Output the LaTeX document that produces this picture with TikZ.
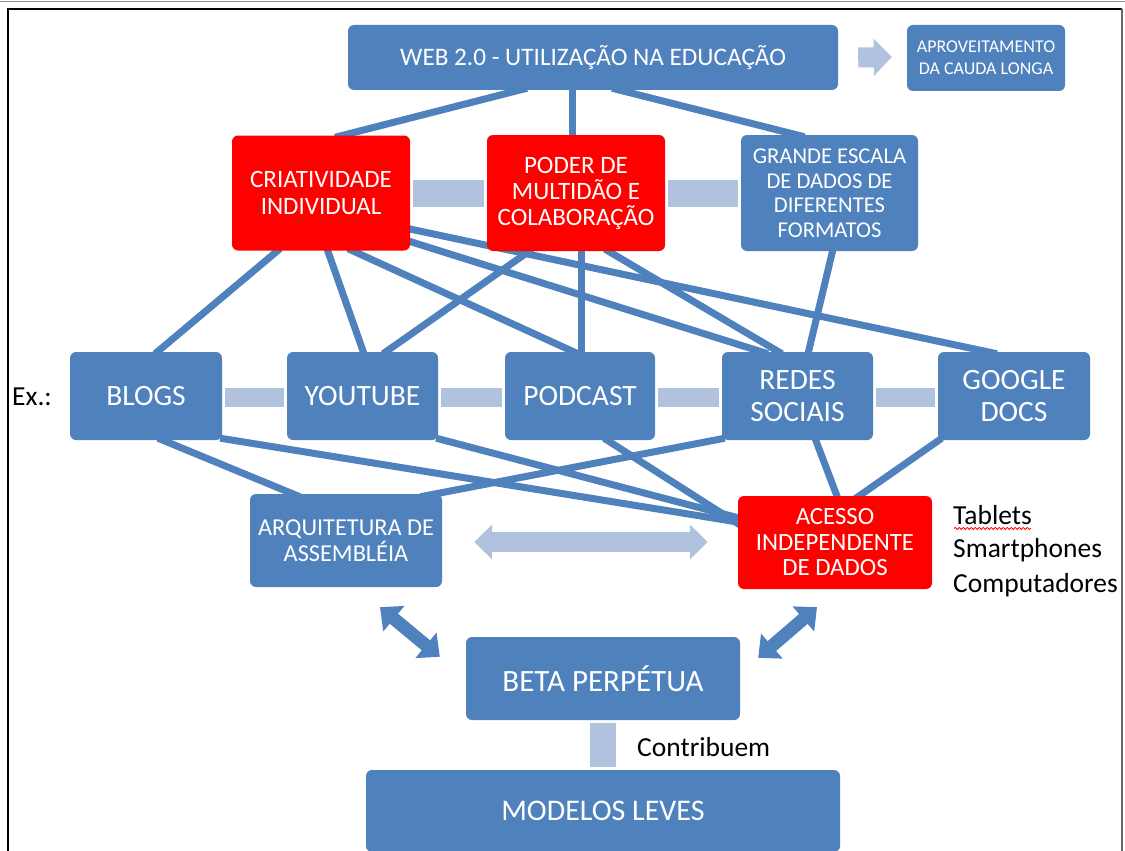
\documentclass[tikz,border=0pt]{standalone}
\usepackage{fontspec}
\setmainfont{Carlito}
\usetikzlibrary{calc,backgrounds,arrows.meta,decorations.pathmorphing}
\definecolor{sblue}{RGB}{79,129,189}
\definecolor{slight}{RGB}{176,194,222}
\definecolor{sred}{RGB}{255,0,0}
\newcommand\fsz[2]{\fontsize{#1}{#2}\selectfont}
\begin{document}
\begin{tikzpicture}[x=1pt,y=-1pt,
  box/.style={fill=sblue, rounded corners=6pt, text=white, align=center, inner sep=0pt},
  redbox/.style={box, fill=sred},
  link/.style={draw=sblue, line width=7pt},
  lbar/.style={draw=slight, shorten <=3pt, shorten >=3pt},
  lbarrow/.style={draw=slight, line width=20pt, -{Triangle[length=18pt,width=36pt]}},
  lbdbl/.style={draw=slight, line width=20pt, {Triangle[length=18pt,width=34pt]}-{Triangle[length=18pt,width=34pt]}},
  dkdbl/.style={draw=sblue, line width=13pt, {Triangle[length=18pt,width=32pt]}-{Triangle[length=18pt,width=32pt]}},
  plain/.style={anchor=west, inner sep=0pt, text=black, font=\fsz{27.5}{31}}
]
\useasboundingbox (0,0) rectangle (1125,851);

% boxes
\node[box, minimum width=490pt, minimum height=65pt, font=\fsz{25.2}{28}] (web) at (593,57.5) {WEB 2.0 - UTILIZAÇÃO NA EDUCAÇÃO};
\node[box, minimum width=158pt, minimum height=66pt, font=\fsz{18}{22}] (aprov) at (986,58) {APROVEITAMENTO\\DA CAUDA LONGA};

\node[redbox, minimum width=178pt, minimum height=115pt, font=\fsz{25}{27}] (crea) at (321,193) {CRIATIVIDADE\\INDIVIDUAL};
\node[redbox, minimum width=178pt, minimum height=116pt, font=\fsz{25}{26}] (poder) at (576,193) {PODER DE\\MULTIDÃO E\\COLABORAÇÃO};
\node[box, minimum width=177pt, minimum height=116pt, font=\fsz{22.6}{24.5}] (grande) at (829.5,193) {GRANDE ESCALA\\DE DADOS DE\\DIFERENTES\\FORMATOS};

\node[box, minimum width=152pt, minimum height=88pt, font=\fsz{29.5}{32}] (blogs) at (146,396) {BLOGS};
\node[box, minimum width=151pt, minimum height=88pt, font=\fsz{29.5}{32}] (yt) at (362.5,396) {YOUTUBE};
\node[box, minimum width=150pt, minimum height=88pt, font=\fsz{29.5}{32}] (pod) at (580,396) {PODCAST};
\node[box, minimum width=151pt, minimum height=88pt, font=\fsz{29.5}{32}] (redes) at (797.5,396) {REDES\\SOCIAIS};
\node[box, minimum width=152pt, minimum height=88pt, font=\fsz{29.5}{32}] (gdocs) at (1014,396) {GOOGLE\\DOCS};

\node[box, minimum width=192pt, minimum height=93pt, font=\fsz{24.3}{26}] (arq) at (346,540.5) {ARQUITETURA DE\\ASSEMBLÉIA};
\node[redbox, minimum width=194pt, minimum height=93pt, font=\fsz{24.8}{25.5}] (acesso) at (835,542.5) {ACESSO\\INDEPENDENTE\\DE DADOS};

\node[box, minimum width=274pt, minimum height=83pt, font=\fsz{31}{32}] (beta) at (603,678.5) {BETA PERPÉTUA};
\node[box, minimum width=474pt, minimum height=82pt, font=\fsz{30}{32}] (modelos) at (603,811) {MODELOS LEVES};

% texts
\node[plain] (ex) at (12,397) {Ex.:};
\node[plain] (tab) at (953,515) {Tablets};
\node[plain] (smart) at (953,550) {Smartphones};
\node[plain] (comp) at (953,585) {Computadores};
\node[plain] (contr) at (637,747) {Contribuem};
\draw[sred, line width=0.8pt, decorate, decoration={snake, amplitude=1.1pt, segment length=4pt}]
  ($(tab.base west)+(1,4)$) -- ($(tab.base east)+(-1,4)$);

% connectors behind boxes
\begin{scope}[on background layer]
  \fill[white] (0,0) rectangle (1125,851);
  \draw[black!45, line width=1pt] (0,1.5) -- (1125,1.5);
  \draw[black, line width=2.5pt] (8,851) -- (8,9) -- (1122,9);
  \draw[black!60, line width=1.5pt] (1122,9) -- (1122,851);

  \draw[link] ($(web.south)+(-66,-2)$) -- ($(crea.north)+(14,2)$);
  \draw[link] ($(web.south)+(-21,-2)$) -- ($(poder.north)+(-4,2)$);
  \draw[link] ($(web.south)+(19,-2)$) -- ($(grande.north)+(-25,2)$);

  \draw[link] ($(crea.south)+(-41,-2)$) -- ($(blogs.north)+(9,2)$);
  \draw[link] ($(crea.south)+(6,-2)$) -- ($(yt.north)+(1.5,2)$);
  \draw[link] ($(crea.south)+(27,-2)$) -- ($(pod.north)+(-2,2)$);
  \draw[link] ($(crea.east)+(-5,47)$) -- ($(redes.north)+(-29.5,2)$);
  \draw[link] ($(crea.east)+(-5,35)$) -- ($(gdocs.north)+(-17,2)$);
  \draw[link] ($(poder.south)+(-44,-2)$) -- ($(yt.north)+(20.5,2)$);
  \draw[link] ($(poder.south)+(5,-2)$) -- ($(pod.north)+(1,2)$);
  \draw[link] ($(poder.south)+(29,-2)$) -- ($(redes.north)+(-15.5,2)$);
  \draw[link] ($(grande.south)+(3.5,-2)$) -- ($(redes.north)+(10.5,2)$);

  \draw[link] ($(blogs.south)+(12,-2)$) -- ($(arq.north)+(-46,3)$);
  \draw[link] ($(blogs.south east)+(-2,-2)$) -- ($(acesso.west)+(3,-20)$);
  \draw[link] ($(yt.south east)+(-2,-2)$) -- ($(acesso.west)+(3,-24)$);
  \draw[link] ($(pod.south)+(24,-2)$) -- ($(acesso.west)+(3,-17)$);
  \draw[link] ($(redes.south west)+(3,-2)$) -- ($(arq.north east)+(-22,3)$);
  \draw[link] ($(redes.south)+(17.5,-2)$) -- ($(acesso.north)+(3,3)$);
  \draw[link] ($(gdocs.south west)+(4,-2)$) -- ($(acesso.north)+(20,3)$);

  \draw[lbar, line width=27pt] (crea.east) -- (poder.west);
  \draw[lbar, line width=27pt] (poder.east) -- (grande.west);
  \draw[lbar, line width=19pt] ([yshift=-1.5pt]blogs.east) -- ([yshift=-1.5pt]yt.west);
  \draw[lbar, line width=19pt] ([yshift=-1.5pt]yt.east) -- ([yshift=-1.5pt]pod.west);
  \draw[lbar, line width=19pt] ([yshift=-1.5pt]pod.east) -- ([yshift=-1.5pt]redes.west);
  \draw[lbar, line width=19pt] ([yshift=-1.5pt]redes.east) -- ([yshift=-1.5pt]gdocs.west);
  \draw[lbar, line width=26pt] (beta.south) -- (modelos.north);
\end{scope}

% block arrows
\draw[lbarrow] ($(web.east)+(20,0)$) -- ($(aprov.west)+(-15,-1)$);
\draw[lbdbl] ($(arq.east)+(32,1.5)$) -- ($(acesso.west)+(-30,-0.5)$);
\draw[dkdbl] ($(arq.south)+(34,20)$) -- ($(beta.north west)+(-26,20)$);
\draw[dkdbl] ($(acesso.south)+(-18,18)$) -- ($(beta.north east)+(18,21)$);
\end{tikzpicture}
\end{document}
